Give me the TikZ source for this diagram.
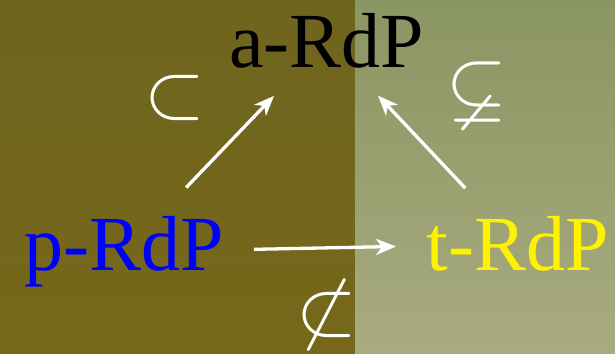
\RequirePackage{fix-cm}
\documentclass[tikz,border=0pt]{standalone}
\usepackage{amsmath,amssymb}
\usepackage{fontspec}
\setmainfont{Liberation Serif}
\usetikzlibrary{arrows.meta,calc}
\definecolor{OlivaArriba}{RGB}{110,101,31}
\definecolor{OlivaAbajo}{RGB}{119,104,25}
\definecolor{SalviaArriba}{RGB}{138,150,99}
\definecolor{SalviaAbajo}{RGB}{168,171,126}

\begin{document}
\begin{tikzpicture}[>={Stealth[length=20pt,width=16pt,inset=6pt]},x=1pt,y=1pt,
  rdp/.style={font=\fontsize{78}{90}\selectfont,inner sep=0pt,anchor=base},
  rel/.style={white,font=\fontsize{78}{90}\selectfont,inner sep=0pt},
  flecha/.style={->,line width=3.3pt,white}]
  \useasboundingbox (0,0) rectangle (615,353);
  \shade[top color=OlivaArriba,bottom color=OlivaAbajo] (0,0) rectangle (355,353);
  \shade[top color=SalviaArriba,bottom color=SalviaAbajo] (355,0) rectangle (615,353);
  \node[rdp] (aRdP) at (326.5,285.3) {a-RdP};
  \node[rdp,blue] (pRdP) at (124.5,82.3) {p-RdP};
  \node[rdp,yellow] (tRdP) at (518,82.3) {t-RdP};
  \draw[flecha] ($(pRdP)!0.305!(aRdP)$) -- ($(pRdP)!0.74!(aRdP)$);
  \draw[flecha] ($(tRdP)!0.275!(aRdP)$) -- ($(tRdP)!0.731!(aRdP)$);
  \draw[flecha] ($(pRdP)!0.329!(tRdP)$) -- ($(pRdP)!0.69!(tRdP)$);
  \node[rel] (incl) at (175,255) {$\subset$};
  \node[rel] (inclEstr) at (477,261) {$\varsubsetneq$};
  \node[rel] (noIncl) at (327,38) {$\not\subset$};
\end{tikzpicture}
\end{document}
